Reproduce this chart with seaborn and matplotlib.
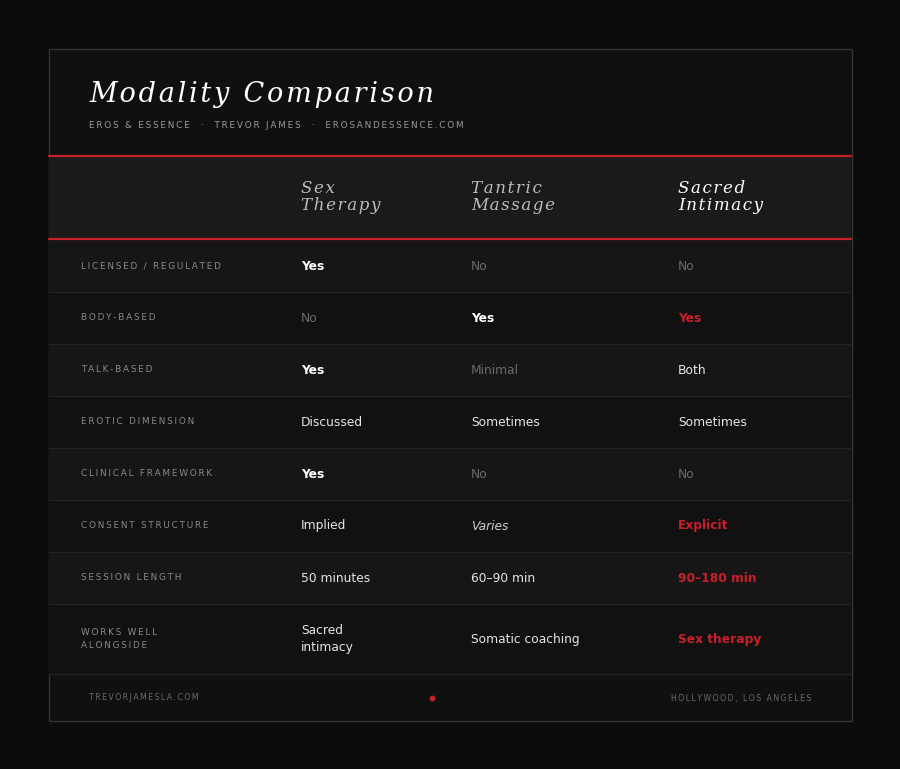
import seaborn as sns
import matplotlib
matplotlib.use("Agg")
from matplotlib import pyplot as plt
from matplotlib.patches import Rectangle

sns.set_theme(style="dark")
plt.rcParams['font.family'] = ['DejaVu Sans']

title = "Modality Comparison"
subtitle = "EROS & ESSENCE  ·  TREVOR JAMES  ·  EROSANDESSENCE.COM"
columns = ["Sex\nTherapy", "Tantric\nMassage", "Sacred\nIntimacy"]
features = ["LICENSED / REGULATED", "BODY-BASED", "TALK-BASED", "EROTIC DIMENSION",
            "CLINICAL FRAMEWORK", "CONSENT STRUCTURE", "SESSION LENGTH",
            "WORKS WELL\nALONGSIDE"]
sex_therapy = ["Yes", "No", "Yes", "Discussed", "Yes", "Implied", "50 minutes",
               "Sacred\nintimacy"]
tantric_massage = ["No", "Yes", "Minimal", "Sometimes", "No", "Varies", "60–90 min",
                   "Somatic coaching"]
sacred_intimacy = ["No", "Yes", "Both", "Sometimes", "No", "Explicit", "90–180 min",
                   "Sex therapy"]
highlight_rows = [1, 5, 6, 7]  # sacred intimacy cells shown in red
footer_left = "TREVORJAMESLA.COM"
footer_right = "HOLLYWOOD, LOS ANGELES"

RED = "#c8202a"


def spaced(s, gap="\u2009"):
    return gap.join(s)


fig = plt.figure(figsize=(9, 7.69), dpi=100, facecolor="#0c0c0c")
ax = fig.add_axes([0, 0, 1, 1])
ax.set_xlim(0, 900)
ax.set_ylim(769, 0)
ax.axis("off")

# card
ax.add_patch(Rectangle((48.5, 48.5), 803, 672, facecolor="#101010",
                       edgecolor="#333333", lw=1))
ax.text(89, 95, spaced(title, "\u200a"), family="DejaVu Serif", style="italic",
        fontsize=19.5, color="white", va="center")
ax.text(89, 126, spaced(subtitle), fontsize=6.4, color="#9a9a9a", va="center")

# column header band
ax.add_patch(Rectangle((49, 156), 802, 83, facecolor="#1a1a1a", lw=0))
ax.plot([49, 851], [155.5, 155.5], color=RED, lw=1.6)
ax.plot([49, 851], [239, 239], color=RED, lw=1.6)
col_x = [301, 471, 678]
for i, (x, c) in enumerate(zip(col_x, columns)):
    txt = "\n".join(spaced(l, "\u200a") for l in c.split("\n"))
    ax.text(x, 197, txt, family="DejaVu Serif", style="italic", fontsize=12,
            color="white" if i == 2 else "#bdbdbd", va="center", linespacing=1.0)

values = [sex_therapy, tantric_massage, sacred_intimacy]
y0 = 240
for r, feat in enumerate(features):
    h = 70 if r == len(features) - 1 else 52
    ax.add_patch(Rectangle((49, y0), 802, h,
                           facecolor="#161616" if r % 2 == 0 else "#111111", lw=0))
    ax.plot([49, 851], [y0 + h, y0 + h], color="#232323", lw=0.8)
    yc = y0 + h / 2
    ax.text(81, yc, "\n".join(spaced(l) for l in feat.split("\n")), fontsize=6.4,
            color="#8a8a8a", va="center", linespacing=1.6)
    for ci, col in enumerate(values):
        v = col[r]
        kw = dict(fontsize=8.8, color="#e6e6e6", weight="normal", style="normal")
        if v == "Yes":
            kw.update(color="white", weight="bold")
        elif v in ("No", "Minimal"):
            kw.update(color="#6a6a6a")
        elif v == "Varies":
            kw.update(style="italic", color="#cfcfcf")
        if ci == 2 and r in highlight_rows:
            kw.update(color=RED, weight="bold")
        ax.text(col_x[ci], yc, v, va="center", linespacing=1.4, **kw)
    y0 += h

ax.text(89, 698, spaced(footer_left), fontsize=5.6, color="#6a6a6a", va="center")
ax.text(811, 698, spaced(footer_right), fontsize=5.6, color="#6a6a6a", va="center",
        ha="right")
ax.scatter([432], [698], s=10, color=RED, zorder=3)

fig.savefig("out.png", dpi=100, facecolor=fig.get_facecolor())
